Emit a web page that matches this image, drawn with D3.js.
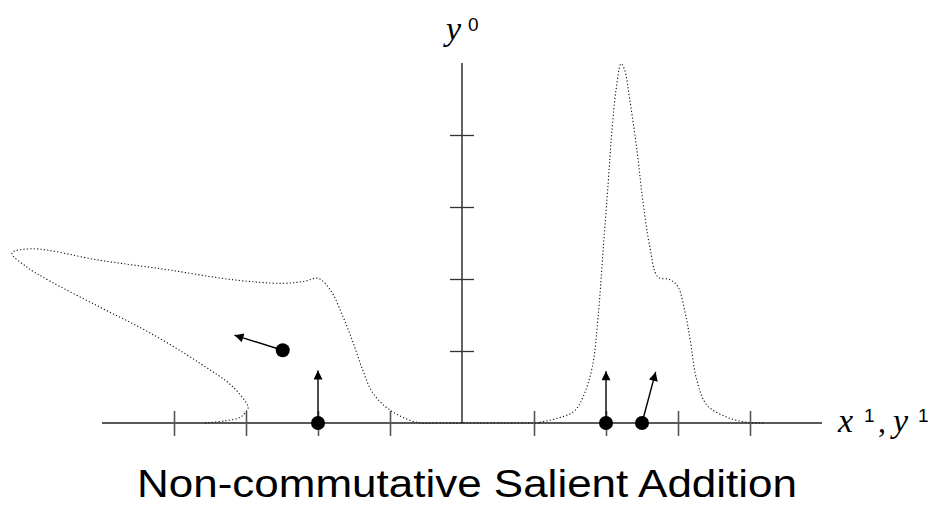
<!DOCTYPE html>
<html><head><meta charset="utf-8">
<script src="https://cdn.jsdelivr.net/npm/d3@7"></script>
<style>body{margin:0;background:#fff}svg{display:block}</style>
</head><body>
<svg id="c" width="935" height="509"></svg>
<script>
// ---- data ----
const xTicks = [-4, -3, -2, -1, 1, 2, 3, 4];
const yTicks = [1, 2, 3, 4];
// left (looping) dotted curve, data units
const leftCurveX = [-3.57,-3.29,-3.08,-2.99,-2.97,-3.18,-3.64,-4.33,-5.03,-5.72,-6.05,-6.25,-5.97,-5.03,-4.10,-3.18,-2.49,-2.18,-2.0,-1.83,-1.65,-1.51,-1.38,-1.24,-1.0,-0.63,-0.31,0.3,1.08];
const leftCurveY = [0,0.03,0.08,0.17,0.22,0.5,0.83,1.25,1.61,1.97,2.17,2.36,2.42,2.26,2.13,1.99,1.94,1.97,2.01,1.85,1.47,1.11,0.74,0.42,0.18,0.01,0,0,0];
// right dotted curve
const rightCurveX = [1.08,1.54,1.68,1.81,1.89,1.96,2.03,2.08,2.14,2.21,2.26,2.33,2.43,2.51,2.61,2.72,2.89,3.0,3.10,3.17,3.26,3.40,3.68,3.96,4.21];
const rightCurveY = [0.01,0.15,0.36,0.78,1.47,2.40,3.33,4.03,4.63,4.99,4.90,4.49,3.79,3.10,2.44,2.03,1.99,1.89,1.53,1.15,0.60,0.25,0.08,0.01,0];
// points with vectors
const pointX = [-2.0, -2.49, 2.0, 2.5];
const pointY = [0, 1.01, 0, 0];
const vecX = [0, -0.67, 0, 0.19];
const vecY = [0.73, 0.21, 0.72, 0.71];
const title = "Non-commutative Salient Addition";

// ---- drawing ----
const svg = d3.select("#c");
const x = d3.scaleLinear().domain([-5, 5]).range([102, 822]);
const y = d3.scaleLinear().domain([0, 5]).range([423, 63]);

const defs = svg.append("defs");
defs.append("marker").attr("id","ah").attr("viewBox","0 0 10 10")
  .attr("refX",10).attr("refY",5).attr("markerWidth",10).attr("markerHeight",9)
  .attr("markerUnits","userSpaceOnUse").attr("orient","auto")
  .append("path").attr("d","M0,0 L10,5 L0,10 Z").attr("fill","#000");

// x axis
const xAxis = d3.axisBottom(x).tickValues(xTicks).tickSize(0).tickFormat("");
const gx = svg.append("g").attr("transform",`translate(0,${y(0)})`).call(xAxis);
gx.select(".domain").attr("stroke","#222").attr("stroke-width",1.4).attr("d",`M${x(-5)},0H${x(5)}`);
gx.selectAll(".tick line").attr("y1",-12).attr("y2",13).attr("stroke","#555").attr("stroke-width",1.6);

// y axis
const yAxis = d3.axisLeft(y).tickValues(yTicks).tickSize(0).tickFormat("");
const gy = svg.append("g").attr("transform",`translate(${x(0)},0)`).call(yAxis);
gy.select(".domain").attr("stroke","#222").attr("stroke-width",1.4).attr("d",`M0,${y(5)}V${y(0)}`);
gy.selectAll(".tick line").attr("x1",-12).attr("x2",12).attr("stroke","#333").attr("stroke-width",1.3);

// curves
const line = d3.line().x(d=>x(d[0])).y(d=>y(d[1])).curve(d3.curveCatmullRom.alpha(0.5));
const left = leftCurveX.map((v,i)=>[v,leftCurveY[i]]);
const right = rightCurveX.map((v,i)=>[v,rightCurveY[i]]);
[left, right].forEach(c=>{
  svg.append("path").attr("d",line(c)).attr("fill","none")
    .attr("stroke","#111").attr("stroke-width",1.1).attr("stroke-dasharray","1.2,2.2");
});

// vectors
pointX.forEach((px,i)=>{
  svg.append("line").attr("x1",x(px)).attr("y1",y(pointY[i]))
    .attr("x2",x(px+vecX[i])).attr("y2",y(pointY[i]+vecY[i]))
    .attr("stroke","#000").attr("stroke-width",1.4).attr("marker-end","url(#ah)");
});
svg.selectAll("circle.pt").data(pointX).join("circle").attr("class","pt")
  .attr("cx",d=>x(d)).attr("cy",(d,i)=>y(pointY[i])).attr("r",7).attr("fill","#000");

// labels
const serif = "'Liberation Serif', serif", sans = "'Liberation Sans', sans-serif";
function ital(t, xx, yy){ return svg.append("text").attr("x",xx).attr("y",yy).attr("font-family",serif)
  .attr("font-style","italic").attr("font-size",34).text(t); }
function sup(t, xx, yy){ return svg.append("text").attr("x",xx).attr("y",yy).attr("font-family",sans)
  .attr("font-size",19).text(t); }
ital("y", 446, 40); sup("0", 468, 31);
ital("x", 838, 432); sup("1", 864, 422);
svg.append("text").attr("x",878).attr("y",432).attr("font-family",serif).attr("font-size",32).text(",");
ital("y", 893, 432); sup("1", 918, 422);

svg.append("text").attr("x",467).attr("y",497).attr("text-anchor","middle")
  .attr("font-family","'Liberation Sans', sans-serif").attr("font-size",38)
  .attr("textLength",660).attr("lengthAdjust","spacingAndGlyphs")
  .attr("fill","#000").text(title);
</script>
</body></html>
